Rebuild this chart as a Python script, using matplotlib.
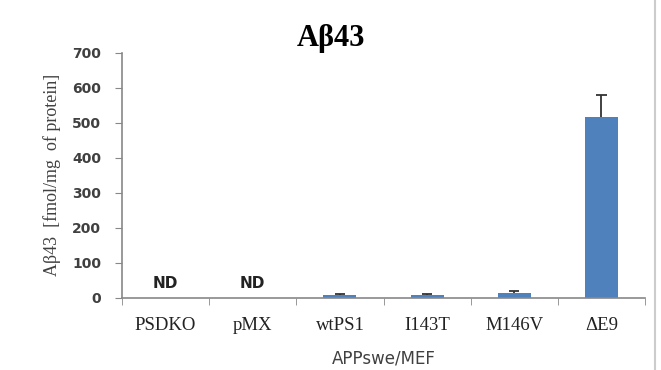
import numpy as np
import matplotlib
matplotlib.use("Agg")
import matplotlib.pyplot as plt

categories = ["PSDKO", "pMX", "wtPS1", "I143T", "M146V", "\u0394E9"]
values = [0, 0, 8, 8, 13, 517]
errors = [0, 0, 4, 3, 7, 63]
nd_flags = [True, True, False, False, False, False]
yticks = [0, 100, 200, 300, 400, 500, 600, 700]

fig = plt.figure(figsize=(6.61, 3.70), dpi=100)
ax = fig.add_axes([0.1846, 0.1954, 0.7912, 0.6614])

x = np.arange(len(categories))
ax.bar(x, values, width=0.38, color="#4f81bd", zorder=2)

# upper-only error bars
for xi, v, e in zip(x, values, errors):
    if e > 0:
        ax.vlines(xi, v, v + e, color="#333333", lw=1.3, zorder=3)
        ax.hlines(v + e, xi - 0.06, xi + 0.06, color="#333333", lw=1.3, zorder=3)

for xi, nd in zip(x, nd_flags):
    if nd:
        ax.text(xi, 40, "ND", ha="center", va="center", fontsize=11,
                fontweight="bold", color="#222222", family="DejaVu Sans")

ax.set_xlim(-0.5, len(categories) - 0.5)
ax.set_ylim(0, 700)
ax.set_yticks(yticks)
ax.set_yticklabels([str(t) for t in yticks], fontsize=10, fontweight="bold",
                   color="#404040")
ax.set_xticks(x)
ax.set_xticklabels(categories, family="Liberation Serif", fontsize=13.5,
                   color="#222222")
ax.tick_params(axis="x", length=0, pad=14)
ax.set_xticks(np.arange(-0.5, len(categories)), minor=True)
ax.tick_params(axis="x", which="minor", length=5, color="#888888", direction="out")
ax.tick_params(axis="y", length=5, color="#888888", direction="out", pad=10)

for s in ["top", "right"]:
    ax.spines[s].set_visible(False)
for s in ["left", "bottom"]:
    ax.spines[s].set_color("#888888")
    ax.spines[s].set_linewidth(1.2)

ax.set_title("A\u03b243", family="Liberation Serif", fontsize=22,
             fontweight="bold", pad=4, x=0.4)
ax.set_ylabel("A\u03b243  [fmol/mg  of protein]", family="Liberation Serif",
              fontsize=13, color="#404040", labelpad=8)
ax.set_xlabel("APPswe/MEF", fontsize=12, color="#404040", labelpad=11)

fig.add_artist(plt.Line2D([655 / 661, 655 / 661], [0, 1], color="#cccccc", lw=1.5))

fig.savefig("out.png", dpi=100)
